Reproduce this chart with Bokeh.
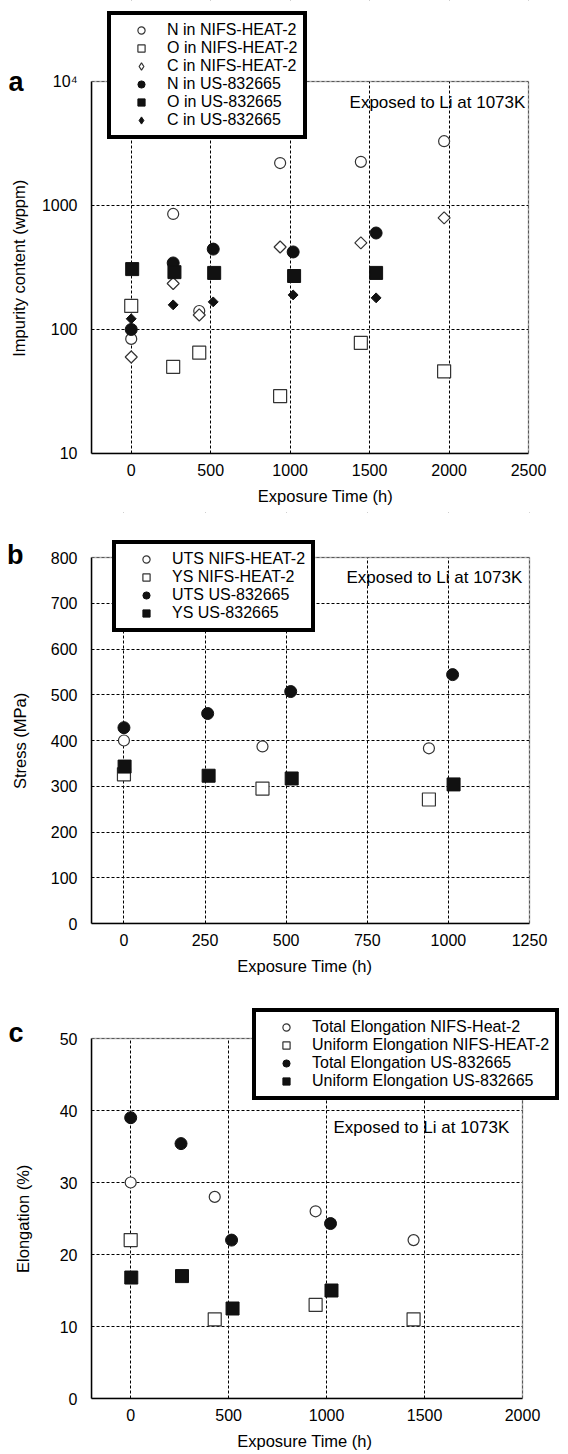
import math
from bokeh.plotting import figure
from bokeh.layouts import column
from bokeh.models import (Legend, LegendItem, Label, FixedTicker, Range1d, LinearAxis,
                          LogAxis, BoxAnnotation, CustomJSTickFormatter)
from bokeh.embed import file_html
from bokeh.resources import INLINE

FONT = "Liberation Sans"

# ---------------- Panel a: impurity content (log) ----------------
a_nifs_t = [0, 264, 428, 937, 1445, 1969]
a_N_nifs = [84, 855, 141, 2200, 2250, 3300]
a_O_nifs = [155, 50, 65, 29, 78, 46]
a_C_nifs = [60, 235, 131, 463, 500, 794]
a_us_t = [0, 264, 516, 1019, 1541]
a_O_us_t = [6, 272, 522, 1025, 1541]
a_N_us = [100, 344, 445, 422, 600]
a_O_us = [307, 290, 286, 270, 286]
a_C_us = [122, 158, 167, 190, 180]
a_xticks = [0, 500, 1000, 1500, 2000, 2500]
a_yticks = [10, 100, 1000, 10000]
a_ytick_labels = ["10", "100", "1000", "10⁴"]
a_labels = ["N in NIFS-HEAT-2", "O in NIFS-HEAT-2", "C in NIFS-HEAT-2",
            "N in US-832665", "O in US-832665", "C in US-832665"]

# ---------------- Panel b: stress ----------------
b_nifs_t = [0, 427, 940]
b_UTS_nifs = [400, 387, 383]
b_YS_nifs = [326, 295, 271]
b_UTS_us_t = [0, 258, 514, 1013]
b_UTS_us = [428, 459, 507, 544]
b_YS_us_t = [2, 261, 517, 1016]
b_YS_us = [343, 323, 317, 304]
b_xticks = [0, 250, 500, 750, 1000, 1250]
b_yticks = [0, 100, 200, 300, 400, 500, 600, 700, 800]
b_labels = ["UTS NIFS-HEAT-2", "YS NIFS-HEAT-2", "UTS US-832665", "YS US-832665"]

# ---------------- Panel c: elongation ----------------
c_nifs_t = [0, 429, 944, 1444]
c_TE_nifs = [30, 28, 26, 22]
c_UE_nifs = [22, 11, 13, 11]
c_TE_us_t = [0, 257, 515, 1020]
c_TE_us = [39, 35.4, 22, 24.3]
c_UE_us_t = [3, 262, 520, 1025]
c_UE_us = [16.8, 17, 12.5, 15]
c_xticks = [0, 500, 1000, 1500, 2000]
c_yticks = [0, 10, 20, 30, 40, 50]
c_labels = ["Total Elongation NIFS-Heat-2", "Uniform Elongation NIFS-HEAT-2",
            "Total Elongation US-832665", "Uniform Elongation US-832665"]

NOTE = "Exposed to Li at 1073K"
XLABEL = "Exposure Time (h)"
NB = "\u00a0"  # non-breaking space used to shift axis-label centring
NAN = [float("nan")]  # legend-key-only renderers

OPEN_LINE = "#333333"
FILLED = "#111111"


def make_fig(height, bb, xr, yr, y_type="linear"):
    return figure(width=568, height=height, x_range=xr, y_range=yr, y_axis_type=y_type,
                  output_backend="svg", toolbar_location=None,
                  min_border_left=91, min_border_right=0, min_border_top=0,
                  min_border_bottom=bb, outline_line_color=None,
                  background_fill_color="white", border_fill_color="white")


def style(p, xticks, yticks, xbounds, ybounds, xlabel):
    p.xaxis.ticker = FixedTicker(ticks=xticks)
    p.yaxis.ticker = FixedTicker(ticks=yticks)
    p.xaxis.bounds = xbounds
    p.yaxis.bounds = ybounds
    for ax in p.axis:
        ax.axis_line_color = "black"
        ax.axis_line_width = 1.5
        ax.major_tick_line_color = None
        ax.minor_tick_line_color = None
        ax.major_tick_out = 0
        ax.major_tick_in = 0
        ax.minor_tick_out = 0
        ax.minor_tick_in = 0
        ax.major_label_text_font = FONT
        ax.major_label_text_font_size = "16px"
        ax.major_label_text_color = "black"
        ax.axis_label_text_font = FONT
        ax.axis_label_text_font_size = "16.5px"
        ax.axis_label_text_font_style = "normal"
        ax.axis_label_text_color = "black"
    p.xaxis.axis_label = xlabel
    p.xaxis.major_label_standoff = 10
    p.xaxis.axis_label_standoff = 8
    p.yaxis.major_label_standoff = 14
    p.grid.grid_line_color = "black"
    p.grid.grid_line_dash = "3 2"
    p.grid.grid_line_width = 1


def letter_axis(p, cls, tick, letter, standoff, ylabel, lab_standoff, bounds):
    ax = cls(ticker=FixedTicker(ticks=[tick]),
             formatter=CustomJSTickFormatter(code='return "%s";' % letter),
             bounds=bounds, axis_line_color=None, major_tick_line_color=None,
             minor_tick_line_color=None, major_tick_in=0, major_tick_out=0,
             minor_tick_in=0, minor_tick_out=0,
             major_label_standoff=standoff, major_label_text_font=FONT,
             major_label_text_font_size="27px", major_label_text_font_style="bold",
             major_label_text_color="black", axis_label=ylabel,
             axis_label_standoff=lab_standoff, axis_label_text_font=FONT,
             axis_label_text_font_size="16.5px", axis_label_text_font_style="normal",
             axis_label_text_color="black")
    p.add_layout(ax, "left")


def frame_and_masks(p, x0, x1, y0, y1):
    p.add_layout(BoxAnnotation(bottom=y1, fill_color="white", fill_alpha=1.0, line_color=None))
    p.add_layout(BoxAnnotation(left=x1, fill_color="white", fill_alpha=1.0, line_color=None))
    p.add_layout(BoxAnnotation(left=x0, right=x1, bottom=y0, top=y1, fill_alpha=0.0,
                               line_color="black", line_width=1.5))


def open_m(p, x, y, marker, size, angle=0.0):
    return p.scatter(x, y, marker=marker, size=size, angle=angle, fill_color="white",
                     line_color=OPEN_LINE, line_width=1.2)


def filled_m(p, x, y, marker, size, angle=0.0):
    return p.scatter(x, y, marker=marker, size=size, angle=angle, fill_color=FILLED,
                     line_color=FILLED, line_width=1)


def add_legend(p, labels, renderers, loc):
    leg = Legend(items=[LegendItem(label=l, renderers=[r]) for l, r in zip(labels, renderers)],
                 location=loc, margin=0, padding=6, spacing=0,
                 glyph_width=48, glyph_height=18, label_height=18, label_standoff=2,
                 label_text_font=FONT, label_text_font_size="16px",
                 label_text_color="black",
                 border_line_color="black", border_line_width=4, border_line_alpha=1.0,
                 background_fill_color="white", background_fill_alpha=1.0)
    p.add_layout(leg)


def note(p, x, y):
    p.add_layout(Label(x=x, y=y, text=NOTE, text_font=FONT, text_font_size="17px",
                       text_baseline="middle", text_color="black"))


# ---------- figure a (canvas y 0..512; data frame x 91..528, y 81..453) ----------
a_xend = 2500 + (568 - 528) * 2750 / 437
a_ytop = 10 ** (4 + 81 / 124.0)
pa = make_fig(512, 59, Range1d(-250, a_xend), Range1d(10, a_ytop), "log")
style(pa, a_xticks, a_yticks, (-250, 2500), (10, 10000), XLABEL + NB * 2)
pa.yaxis.major_label_overrides = {t: s for t, s in zip(a_yticks, a_ytick_labels)}
letter_axis(pa, LogAxis, 10000, "a", 15, "Impurity content (wppm)" + NB * 18, -23, (10, 10000))
r1 = open_m(pa, a_nifs_t, a_N_nifs, "circle", 11)
r2 = open_m(pa, a_nifs_t, a_O_nifs, "square", 13)
open_m(pa, a_nifs_t, a_C_nifs, "square", 8.5, math.pi / 4)
r4 = filled_m(pa, a_us_t, a_N_us, "circle", 12)
r5 = filled_m(pa, a_O_us_t, a_O_us, "square", 13)
filled_m(pa, a_us_t, a_C_us, "square", 7, math.pi / 4)
# legend keys for the diamond series (legend glyphs ignore rotation)
r3 = open_m(pa, NAN, NAN, "diamond", 12)
r6 = filled_m(pa, NAN, NAN, "diamond", 10)
frame_and_masks(pa, -250, 2500, 10, 10000)
add_legend(pa, a_labels, [r1, r2, r3, r4, r5, r6], (16, 314))
note(pa, 1374, 6768)

# ---------- figure b (canvas y 512..979; data frame x 91..529, y 557..923) ----------
b_xend = 1250 + (568 - 529) * 1350 / 438
b_ytop = 800 + (557 - 512) * 800 / 366
pb = make_fig(467, 56, Range1d(-100, b_xend), Range1d(0, b_ytop))
style(pb, b_xticks, b_yticks, (-100, 1250), (0, 800), XLABEL + NB * 11)
letter_axis(pb, LinearAxis, 804.4, "b", 24, "Stress (MPa)" + NB * 10, -25, (-4.4, 804.4))
s1 = open_m(pb, b_nifs_t, b_UTS_nifs, "circle", 11)
s2 = open_m(pb, b_nifs_t, b_YS_nifs, "square", 13)
s3 = filled_m(pb, b_UTS_us_t, b_UTS_us, "circle", 12)
s4 = filled_m(pb, b_YS_us_t, b_YS_us, "square", 13)
frame_and_masks(pb, -100, 1250, 0, 800)
add_legend(pb, b_labels, [s1, s2, s3, s4], (21, 291))
note(pb, 686, 756)

# ---------- figure c (canvas y 979..1454; data frame x 91..522, y 1038..1398) ----------
c_xend = 2000 + (568 - 522) * 2200 / 431
c_ytop = 50 + (1038 - 979) * 50 / 360
pc = make_fig(475, 56, Range1d(-200, c_xend), Range1d(0, c_ytop))
style(pc, c_xticks, c_yticks, (-200, 2000), (0, 50), XLABEL + NB * 11)
letter_axis(pc, LinearAxis, 50.83, "c", 33, "Elongation (%)" + NB * 13, -27, (-0.83, 50.83))
u1 = open_m(pc, c_nifs_t, c_TE_nifs, "circle", 11)
u2 = open_m(pc, c_nifs_t, c_UE_nifs, "square", 13)
u3 = filled_m(pc, c_TE_us_t, c_TE_us, "circle", 12)
u4 = filled_m(pc, c_UE_us_t, c_UE_us, "square", 13)
frame_and_masks(pc, -200, 2000, 0, 50)
add_legend(pc, c_labels, [u1, u2, u3, u4], (161, 298))
note(pc, 1035, 37.6)

layout = column(pa, pb, pc, spacing=0)
open("out.html", "w").write(file_html(layout, INLINE))
